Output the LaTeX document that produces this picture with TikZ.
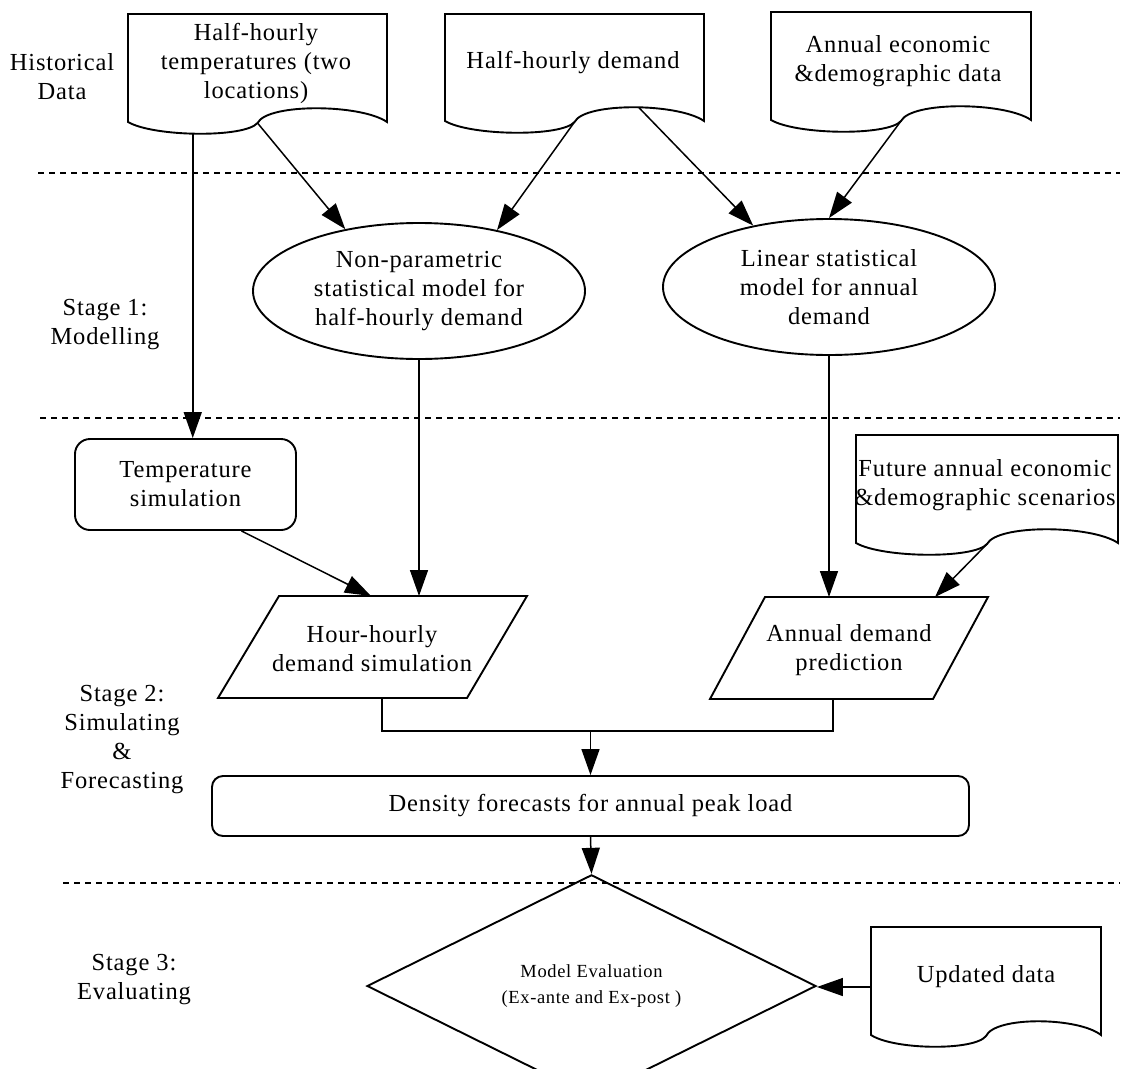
\documentclass[tikz,border=0pt]{standalone}
\usepackage{fontspec}
\setmainfont{Liberation Serif}[LetterSpace=3.5]
\usetikzlibrary{arrows.meta,shapes.geometric,calc}
\newcommand\docshape[5]{%
  \pgfmathsetmacro\dsW{#4-#2}%
  \pgfmathsetmacro\dsC{(#2+#4)/2}%
  \draw[shp] (#2,#3) -- (#4,#3) -- (#4,#5)
     .. controls ({#4-0.1*\dsW},{#5-18}) and ({\dsC+0.04*\dsW},{#5-19}) .. (\dsC,{#5+1})
     .. controls ({\dsC-0.05*\dsW},{#5+16}) and ({#2+0.1*\dsW},{#5+15}) .. (#2,#5) -- cycle;
  \coordinate (#1cusp) at (\dsC,{#5+1});
  \coordinate (#1dip) at ({#2+0.25*\dsW},{#5+11});
  \coordinate (#1bump) at ({#2+0.75*\dsW},{#5-13});
  \coordinate (#1west) at (#2,{(#3+#5)/2+6});
}
\tikzset{
  shp/.style={draw=black, line width=1.9pt, line join=miter},
  lbl/.style={align=center, font=\fontsize{24.5}{29}\selectfont, inner sep=0pt, text=black},
  arr/.style={draw=black, line width=1.5pt, -{Triangle[length=26pt,width=18pt]}},
  con/.style={draw=black, line width=1.5pt},
  sepline/.style={draw=black, line width=1.2pt, dash pattern=on 6pt off 5pt}
}
\begin{document}
\begin{tikzpicture}[x=1pt,y=-1pt]
\useasboundingbox (0,0) rectangle (1123,1068);

% separators
\draw[sepline] (38,173) -- (1120,173);
\draw[sepline] (40,418) -- (1120,418);
\draw[sepline] (63,883) -- (1120,883);

% stage labels
\node[lbl] (hist) at (62,77) {Historical\\Data};
\node[lbl] (st1) at (105,325) {Stage 1:\\Modelling};
\node[lbl] (st2) at (122,740) {Stage 2:\\Simulating\\\&\\Forecasting};
\node[lbl] (st3) at (134,980) {Stage 3:\\Evaluating};

% documents
\docshape{d1}{128}{14}{387}{122}
\node[lbl] (d1t) at (256,63) {Half-hourly\\temperatures (two\\locations)};
\docshape{d2}{445}{14}{704}{121}
\node[lbl] (d2t) at (573,63) {Half-hourly demand};
\docshape{d3}{771}{12}{1031}{120}
\node[lbl] (d3t) at (898,61) {Annual economic\\\&demographic data};
\docshape{d4}{856}{435}{1118}{543}
\node[lbl] (d4t) at (985,485) {Future annual economic\\\&demographic scenarios};
\docshape{d5}{871}{927}{1101}{1035}
\node[lbl] (d5t) at (986,977) {Updated data};

% models
\node[shp, lbl, ellipse, minimum width=332pt, minimum height=136pt] (e1) at (419,291)
  {Non-parametric\\statistical model for\\half-hourly demand};
\node[shp, lbl, ellipse, minimum width=332pt, minimum height=136pt] (e2) at (829,287)
  {Linear statistical\\model for annual\\demand};

% temperature simulation
\node[shp, lbl, rounded corners=15pt, minimum width=221pt, minimum height=91pt] (temp) at (185.5,484.5)
  {Temperature\\simulation};

% parallelograms
\coordinate (hhtl) at (279,596); \coordinate (hhtr) at (527,596);
\coordinate (hhbr) at (467,698); \coordinate (hhbl) at (218,698);
\draw[shp] (hhtl) -- (hhtr) -- (hhbr) -- (hhbl) -- cycle;
\node[lbl] (hh) at (372,649) {Hour-hourly\\demand simulation};
\coordinate (hhin) at (371,596);
\coordinate (hhout) at (382,698);

\coordinate (adtl) at (765,597); \coordinate (adtr) at (988,597);
\coordinate (adbr) at (933,699); \coordinate (adbl) at (710,699);
\draw[shp] (adtl) -- (adtr) -- (adbr) -- (adbl) -- cycle;
\node[lbl] (ad) at (849,650) {Annual demand\\prediction};
\coordinate (adin) at (935,597);
\coordinate (adout) at (833,699);

% density forecasts
\node[shp, lbl, rounded corners=11pt, minimum width=757pt, minimum height=60pt] (dens) at (590.5,806)
  {Density forecasts for annual peak load};

% evaluation
\node[shp, lbl, diamond, minimum width=449pt, minimum height=166pt, font=\fontsize{18.5}{26}\selectfont] (eval) at (591.5,986)
  {Model Evaluation\\(Ex-ante and Ex-post )};

% connectors
\draw[arr] (d1dip) -- (d1dip |- temp.north);
\draw[arr] (d1cusp) -- (e1.140);
\draw[arr] (d2cusp) -- (e1.38);
\draw[arr] (d2bump) -- (e2.141);
\draw[arr] (d3cusp) -- (e2.north);
\draw[arr] (e1.south) -- (e1.south |- hhtl);
\draw[arr] ([xshift=56pt]temp.south) -- (hhin);
\draw[arr] (e2.south) -- (e2.south |- adtl);
\draw[arr] (d4cusp) -- (adin);
\draw[con] (hhout) -- ++(0,33) -| (adout);
\coordinate (merge) at (590.5,731);
\draw[arr] (merge) -- (dens.north);
\draw[arr] (dens.south) -- (eval.north);
\draw[arr] (d5west) -- (d5west -| eval.east);
\end{tikzpicture}
\end{document}
